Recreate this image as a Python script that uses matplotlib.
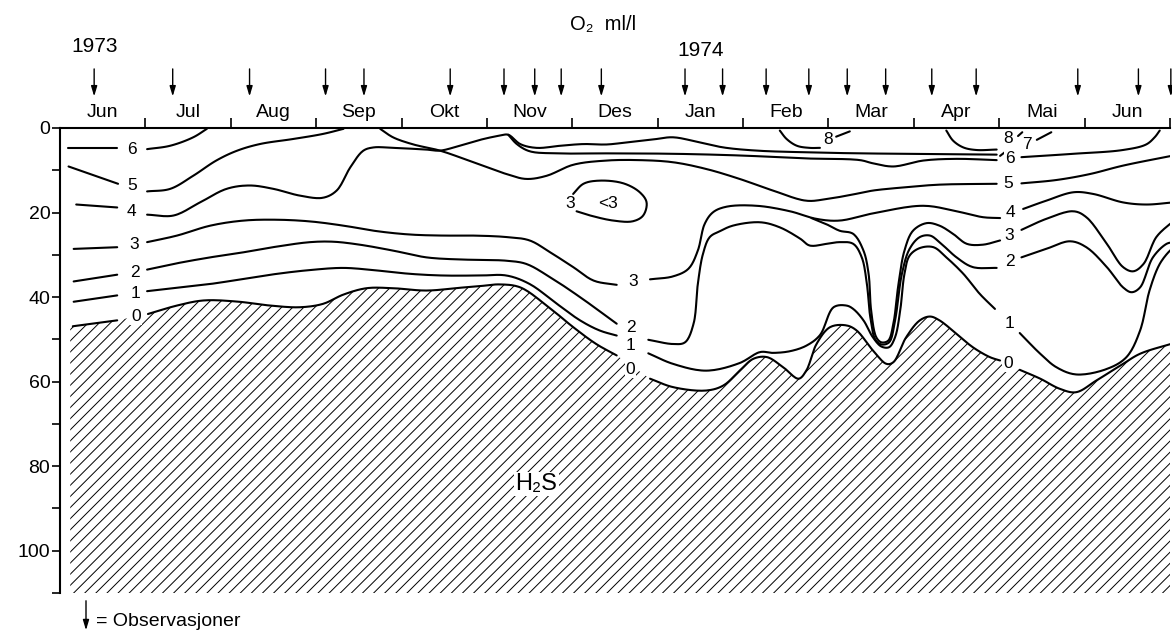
import numpy as np
import matplotlib
matplotlib.use('Agg')
import matplotlib.pyplot as plt
from matplotlib.patches import Polygon, FancyArrowPatch

plt.rcParams['font.family'] = ['Liberation Sans', 'DejaVu Sans']
plt.rcParams['hatch.linewidth'] = 0.7
plt.rcParams['hatch.color'] = 'black'

# x = months since 1 Jun 1973, y = depth (m)
months = ['Jun', 'Jul', 'Aug', 'Sep', 'Okt', 'Nov', 'Des',
          'Jan', 'Feb', 'Mar', 'Apr', 'Mai', 'Jun']
obs_dates = [0.40, 1.32, 2.22, 3.11, 3.56, 4.57, 5.20, 5.56, 5.87, 6.34,
             7.32, 7.76, 8.27, 8.77, 9.22, 9.67, 10.21, 10.73, 11.92, 12.63, 13.01]
depth_major = [0, 20, 40, 60, 80, 100]
depth_minor = [10, 30, 50, 70, 90, 110]

# isolines of O2 (ml/l)
iso6_a = [(0.09, 4.7), (0.67, 4.7)]
iso6_b = [(1.02, 5.0), (1.29, 4.2), (1.56, 2.2), (1.72, 0.2)]
iso6_c = [(5.25, 1.6), (5.35, 3.8), (5.50, 5.5), (5.82, 6.0), (6.40, 6.0), (7.18, 6.1),
          (7.96, 6.5), (8.74, 7.2), (9.37, 7.6), (9.52, 8.35), (9.76, 9.1), (10.11, 7.7),
          (10.50, 7.3), (10.97, 7.6)]
iso6_d = [(11.26, 6.9), (11.87, 6.1), (12.45, 5.2), (12.72, 3.9), (12.82, 2.2), (12.88, 0.6)]

iso5_a = [(0.10, 9.1), (0.68, 13.2)]
iso5_b = [(1.02, 15.0), (1.29, 14.4), (1.56, 11.3), (1.83, 7.7), (2.07, 5.4), (2.34, 3.8),
          (2.73, 2.6), (3.08, 1.4), (3.32, 0.2)]
iso5_c = [(3.75, 0.2), (3.90, 2.2), (4.14, 3.9), (4.45, 5.35), (4.84, 8.1), (5.23, 10.9),
          (5.46, 12.05), (5.70, 11.3), (6.01, 8.7), (6.40, 7.7), (6.79, 7.6), (7.18, 8.1),
          (7.57, 9.7), (7.96, 12.05), (8.35, 14.8), (8.74, 17.2), (8.98, 16.8), (9.37, 15.4),
          (9.52, 14.8), (9.91, 14.0), (10.30, 13.4), (10.97, 13.2)]
iso5_d = [(11.26, 13.1), (11.67, 12.3), (12.06, 10.9), (12.45, 8.9), (13.04, 6.5)]

iso4_a = [(0.19, 18.1), (0.67, 18.8)]
iso4_b = [(1.02, 20.5), (1.33, 20.7), (1.64, 17.6), (1.95, 14.4), (2.22, 13.6), (2.50, 14.4),
          (2.81, 16.0), (3.08, 16.5), (3.24, 14.8), (3.40, 9.3), (3.55, 5.4), (3.67, 4.6),
          (3.90, 4.7), (4.29, 5.1), (4.45, 5.35), (4.68, 4.2), (4.92, 2.8), (5.15, 1.8),
          (5.25, 1.6), (5.39, 3.8), (5.58, 4.7), (5.86, 4.2), (6.13, 3.8), (6.40, 3.9),
          (6.64, 3.4), (6.95, 2.7), (7.18, 2.2), (7.49, 3.4), (7.77, 4.6), (8.16, 5.35),
          (8.74, 5.75), (9.37, 6.0), (9.91, 6.1), (10.97, 6.3)]
iso4_c = [(6.91, 35.8), (7.18, 35.1), (7.36, 33.3), (7.47, 29.0), (7.55, 22.7), (7.65, 19.9),
          (7.81, 18.6), (8.16, 18.4), (8.55, 19.7), (8.86, 21.5), (9.13, 21.9), (9.52, 20.2),
          (10.11, 18.4), (10.50, 19.7), (10.81, 21.1), (11.01, 21.3)]
iso4_d = [(11.28, 19.15), (11.55, 17.2), (11.87, 15.2), (12.10, 15.6), (12.45, 17.6),
          (12.72, 18.1), (13.04, 17.6)]

iso3_a = [(0.16, 28.6), (0.67, 28.2)]
iso3_b = [(1.02, 27.0), (1.37, 25.45), (1.76, 23.1), (2.15, 21.9), (2.54, 21.7), (2.93, 22.1),
          (3.32, 23.1), (3.71, 24.4), (4.10, 25.2), (4.49, 25.45), (4.84, 25.45), (5.23, 25.8),
          (5.50, 26.6), (5.74, 29.4), (6.01, 32.9), (6.25, 36.1), (6.52, 37.1)]
iso3_v = [(8.80, 21.3), (8.98, 22.8), (9.13, 24.3), (9.29, 25.05), (9.41, 29.0), (9.47, 34.5),
          (9.50, 43.2), (9.56, 49.5), (9.62, 50.7), (9.70, 50.3), (9.76, 46.3), (9.82, 36.9),
          (9.89, 29.0), (9.99, 24.3), (10.15, 22.5), (10.30, 23.1), (10.46, 25.05),
          (10.62, 27.4), (10.81, 27.6), (11.01, 26.6)]
iso3_c = [(11.26, 24.1), (11.55, 21.5), (11.87, 19.7), (12.02, 21.1), (12.26, 27.4),
          (12.45, 32.9), (12.57, 33.9), (12.69, 32.15), (12.84, 25.8), (13.0, 22.7), (13.04, 22.1)]
iso3_loop = [(6.05, 19.7), (6.21, 20.7), (6.48, 21.9), (6.71, 22.06), (6.83, 20.7), (6.87, 17.6),
             (6.79, 15.2), (6.60, 13.1), (6.32, 12.45), (6.13, 13.2), (6.01, 15.6)]

iso2_a = [(0.16, 36.3), (0.67, 34.7)]
iso2_b = [(1.02, 33.5), (1.37, 32.0), (1.76, 30.6), (2.15, 29.4), (2.54, 28.05), (2.93, 27.0),
          (3.20, 26.9), (3.51, 27.6), (3.90, 29.0), (4.29, 30.6), (4.68, 31.1), (4.92, 31.2),
          (5.23, 31.4), (5.46, 32.15), (5.74, 35.3), (6.09, 40.0), (6.52, 46.3)]
iso2_c = [(6.89, 50.1), (7.18, 51.1), (7.32, 50.7), (7.42, 46.3), (7.47, 36.9), (7.53, 29.8),
          (7.61, 25.8), (7.73, 24.4), (7.88, 23.1), (8.20, 22.3), (8.43, 23.5), (8.67, 26.2),
          (8.78, 27.8), (8.98, 27.4), (9.13, 27.0), (9.29, 27.4), (9.39, 30.6), (9.45, 36.9),
          (9.49, 44.75), (9.55, 50.1), (9.62, 51.2), (9.71, 50.7), (9.78, 45.5), (9.86, 34.5),
          (9.95, 28.6), (10.07, 25.8), (10.19, 25.45), (10.30, 27.0), (10.50, 30.6),
          (10.69, 32.9), (10.97, 33.1)]
iso2_d = [(11.26, 30.6), (11.55, 28.6), (11.83, 26.8), (12.02, 28.2), (12.26, 32.9),
          (12.45, 37.7), (12.55, 38.85), (12.65, 37.7), (12.80, 30.6), (12.96, 27.4), (13.04, 27.0)]

iso1_a = [(0.16, 41.1), (0.67, 39.6)]
iso1_b = [(1.02, 38.6), (1.37, 37.8), (1.76, 36.9), (2.15, 35.7), (2.54, 34.5), (2.93, 33.6),
          (3.32, 33.1), (3.71, 33.7), (4.10, 34.5), (4.49, 34.9), (4.92, 34.9), (5.23, 34.9),
          (5.50, 36.9), (5.82, 41.6), (6.09, 45.5), (6.32, 47.9), (6.52, 49.1)]
iso1_c = [(6.89, 53.3), (7.18, 55.8), (7.57, 57.4), (7.96, 55.6), (8.20, 53.0), (8.35, 53.2),
          (8.55, 52.8), (8.74, 51.5), (8.90, 49.0), (9.06, 42.4), (9.21, 42.0), (9.29, 42.8),
          (9.41, 45.5), (9.52, 49.5), (9.62, 51.7), (9.71, 51.85), (9.78, 49.5), (9.84, 43.2),
          (9.89, 34.5), (9.95, 30.2), (10.07, 28.4), (10.23, 28.2), (10.38, 30.6), (10.58, 34.5),
          (10.77, 39.2), (10.95, 42.8)]
iso1_d = [(11.24, 48.5), (11.48, 53.4), (11.67, 56.6), (11.90, 58.3), (12.26, 57.0),
          (12.49, 54.2), (12.65, 47.9), (12.76, 38.45), (12.88, 32.15), (13.0, 29.0), (13.04, 28.4)]

iso0_a = [(0.15, 46.9), (0.67, 45.5)]
iso0_b = [(1.03, 44.0), (1.37, 42.0), (1.68, 40.8), (2.07, 41.05), (2.46, 42.0), (2.81, 42.4),
          (3.08, 41.6), (3.32, 39.4), (3.59, 37.9), (3.90, 37.9), (4.29, 38.45), (4.68, 37.8),
          (4.92, 37.4), (5.15, 37.0), (5.39, 37.7), (5.70, 42.0), (6.01, 47.1), (6.28, 51.1),
          (6.52, 53.8)]
iso0_c = [(6.91, 59.3), (7.18, 61.3), (7.57, 62.1), (7.77, 60.9), (7.96, 57.4), (8.12, 54.6),
          (8.28, 54.2), (8.47, 56.6), (8.65, 59.3), (8.74, 57.4), (8.86, 51.1), (9.02, 47.1),
          (9.21, 46.7), (9.33, 47.9), (9.52, 52.6), (9.68, 55.8), (9.76, 55.4), (9.91, 49.5),
          (10.07, 45.5), (10.19, 44.6), (10.30, 45.5), (10.50, 48.7), (10.69, 51.85),
          (10.89, 54.2), (11.01, 55.0)]
iso0_d = [(11.24, 57.2), (11.48, 59.3), (11.71, 61.7), (11.90, 62.5), (12.14, 59.7),
          (12.45, 55.8), (12.65, 53.4), (13.04, 50.9)]

iso8_a = [(8.43, 0.6), (8.51, 2.6), (8.63, 4.2), (8.78, 4.7), (8.90, 4.7)]
iso8_a_tail = [(9.09, 2.05), (9.25, 0.8)]
iso8_b = [(10.38, 0.6), (10.46, 3.0), (10.58, 4.6), (10.73, 5.2), (10.97, 5.1)]
iso8_b_tail = [(11.22, 1.9), (11.27, 1.0)]
iso7_tick = [(11.01, 6.6), (11.08, 5.5)]
iso7_tail = [(11.44, 2.8), (11.61, 1.0)]

# contour labels: (month, depth, text)
iso_labels = [
    (0.84, 5.0, '6'), (0.84, 13.6, '5'), (0.84, 19.7, '4'), (0.87, 27.6, '3'),
    (0.88, 34.1, '2'), (0.88, 39.2, '1'), (0.89, 44.6, '0'),
    (6.71, 36.2, '3'), (6.69, 47.3, '2'), (6.68, 51.5, '1'), (6.68, 57.2, '0'),
    (5.97, 17.8, '3'), (6.42, 17.8, '<3'), (8.99, 2.8, '8'),
    (11.10, 2.6, '8'), (11.33, 3.9, '7'), (11.12, 7.3, '6'), (11.11, 13.2, '5'),
    (11.13, 19.9, '4'), (11.12, 25.45, '3'), (11.12, 31.5, '2'), (11.12, 46.3, '1'),
    (11.10, 55.8, '0'),
]

SX, SY = 85.4, 4.23   # rough px per month / per metre, only for spline spacing


def smooth(pts, n=14):
    # centripetal Catmull-Rom through the traced points
    P = np.asarray(pts, float) * [SX, SY]
    if len(P) < 3:
        return P / [SX, SY]
    P = np.vstack([2 * P[0] - P[1], P, 2 * P[-1] - P[-2]])
    out = [P[1]]
    for i in range(1, len(P) - 2):
        p0, p1, p2, p3 = P[i - 1], P[i], P[i + 1], P[i + 2]
        t0 = 0.0
        t1 = t0 + max(np.linalg.norm(p1 - p0), 1e-6) ** 0.5
        t2 = t1 + max(np.linalg.norm(p2 - p1), 1e-6) ** 0.5
        t3 = t2 + max(np.linalg.norm(p3 - p2), 1e-6) ** 0.5
        t = np.linspace(t1, t2, n)[1:, None]
        a1 = (t1 - t) / (t1 - t0) * p0 + (t - t0) / (t1 - t0) * p1
        a2 = (t2 - t) / (t2 - t1) * p1 + (t - t1) / (t2 - t1) * p2
        a3 = (t3 - t) / (t3 - t2) * p2 + (t - t2) / (t3 - t2) * p3
        b1 = (t2 - t) / (t2 - t0) * a1 + (t - t0) / (t2 - t0) * a2
        b2 = (t3 - t) / (t3 - t1) * a2 + (t - t1) / (t3 - t1) * a3
        c = (t2 - t) / (t2 - t1) * b1 + (t - t1) / (t2 - t1) * b2
        out.extend(c)
    return np.array(out) / [SX, SY]


fig = plt.figure(figsize=(11.72, 6.36), dpi=100)
ax = fig.add_axes([60 / 1172, 1 - 593 / 636, 1110 / 1172, 465 / 636])
ax.set_xlim(0, 13)
ax.set_ylim(110, 0)

# anoxic bottom water, hatched
bottom = np.vstack([smooth(s) for s in (iso0_a, iso0_b, iso0_c, iso0_d)])
poly = np.vstack([[0.12, bottom[0, 1]], bottom, [13.05, bottom[-1, 1]], [13.05, 110], [0.12, 110]])
ax.add_patch(Polygon(poly, closed=True, facecolor='white', edgecolor='black', lw=0,
                     hatch='///', zorder=1))

lines = [iso6_a, iso6_b, iso6_c, iso6_d, iso5_a, iso5_b, iso5_c, iso5_d,
         iso4_a, iso4_b, iso4_c, iso4_d, iso3_a, iso3_b, iso3_v, iso3_c, iso3_loop,
         iso2_a, iso2_b, iso2_c, iso2_d, iso1_a, iso1_b, iso1_c, iso1_d,
         iso0_a, iso0_b, iso0_c, iso0_d, iso8_a, iso8_a_tail, iso8_b, iso8_b_tail,
         iso7_tick, iso7_tail]
for seg in lines:
    xy = smooth(seg)
    ax.plot(xy[:, 0], xy[:, 1], color='black', lw=1.5, solid_capstyle='round', zorder=3)

for x, y, s in iso_labels:
    ax.text(x, y, s, ha='center', va='center', fontsize=12.5, zorder=4,
            bbox=dict(facecolor='white', edgecolor='none', pad=0.6))

ax.text(5.58, 84.2, 'H₂S', ha='center', va='center', fontsize=17, zorder=4,
        bbox=dict(facecolor='white', edgecolor='none', pad=1.0))

# axes styling
for side in ['right', 'bottom']:
    ax.spines[side].set_visible(False)
ax.spines['left'].set_linewidth(1.5)
ax.spines['top'].set_linewidth(1.5)
ax.xaxis.tick_top()
ax.set_xticks(range(1, 14))
ax.set_xticklabels([])
ax.tick_params(axis='x', direction='out', length=7, width=1.2)
ax.set_yticks(depth_major)
ax.set_yticks(depth_minor, minor=True)
ax.set_yticklabels([str(d) for d in depth_major], fontsize=14)
ax.tick_params(axis='y', which='both', direction='out', length=6, width=1.2, pad=1)

trans = ax.get_xaxis_transform()
for i, name in enumerate(months):
    ax.text(i + 0.5, 1.033, name, transform=trans, ha='center', va='center', fontsize=14)

for d in obs_dates:
    ax.annotate('', xy=(d, 1.062), xytext=(d, 1.133), xycoords=trans, textcoords=trans,
                annotation_clip=False,
                arrowprops=dict(arrowstyle='-|>,head_length=0.5,head_width=0.15',
                                color='black', lw=1.0, mutation_scale=12))

fig.text(95 / 1172, 1 - 46 / 636, '1973', ha='center', va='center', fontsize=15)
fig.text(701 / 1172, 1 - 50 / 636, '1974', ha='center', va='center', fontsize=15)
fig.text(603 / 1172, 1 - 24 / 636, 'O₂  ml/l', ha='center', va='center', fontsize=14.5)

fig.patches.append(FancyArrowPatch(
    (86 / 1172, 1 - 598 / 636), (86 / 1172, 1 - 633 / 636), transform=fig.transFigure,
    arrowstyle='-|>,head_length=0.5,head_width=0.15', mutation_scale=12,
    color='black', lw=1.0))
fig.text(96 / 1172, 1 - 621 / 636, '= Observasjoner', ha='left', va='center', fontsize=14)

fig.savefig('out.png', dpi=100)
